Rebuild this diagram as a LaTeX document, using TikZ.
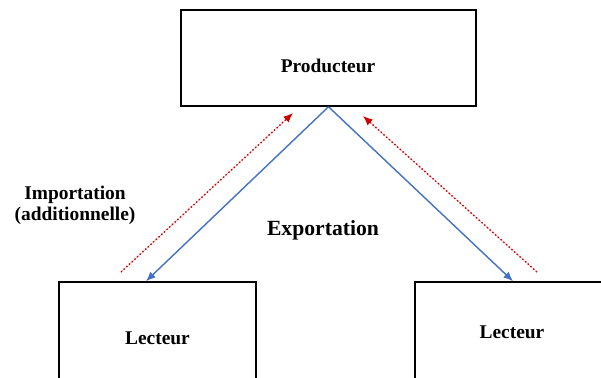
\documentclass[tikz,border=0pt]{standalone}
\usepackage{fontspec}
\setmainfont{Liberation Serif}
\usetikzlibrary{calc,arrows.meta}

\definecolor{bluexp}{RGB}{68,114,196}
\definecolor{redimp}{RGB}{204,0,0}

\begin{document}
\begin{tikzpicture}[
                x=0.025cm, y=-0.025cm,
                font=\bfseries\fontsize{13.8}{15}\selectfont,
                >={Latex[length=2.4mm,width=2mm]},
                % boites (producteur / lecteurs)
                boite/.style={
                    draw,
                    line width=1.1pt,
                    inner sep=0pt
                },
                % fleche d'exportation
                expo/.style={->, draw=bluexp, fill=bluexp, line width=1pt},
                % fleche d'importation (pointilles)
                impo/.style={->, draw=redimp, fill=redimp, line width=1pt,
                    dash pattern=on 1pt off 1.6pt}
            ]

                \useasboundingbox (0,0) rectangle (601,377);
                \clip (0,0) rectangle (601,377);

                % ========================================================
                % 1. Producteur (en haut)
                % ========================================================
                \node[boite, minimum width=295*0.025cm, minimum height=96*0.025cm]
                    (prod) at (328.5, 58) {};
                \node (prodtxt) at (328, 66) {Producteur};

                % ========================================================
                % 2. Lecteurs (en bas, coupes par le bord)
                % ========================================================
                \node[boite, minimum width=197*0.025cm, minimum height=112*0.025cm]
                    (lect1) at (157.5, 338) {Lecteur};
                \node[boite, minimum width=194*0.025cm, minimum height=100*0.025cm]
                    (lect2) at (512, 332) {Lecteur};

                % ========================================================
                % 3. Exportation (fleches bleues)
                % ========================================================
                \coordinate (exp1) at (lect1.north west -| 146, 0);
                \coordinate (exp2) at (lect2.north west -| 513, 0);
                \draw[expo] (prod.south) -- (exp1);
                \draw[expo] (prod.south) -- (exp2);

                \node (exptxt) at (323, 230) {\fontsize{15.4}{17}\selectfont Exportation};

                % ========================================================
                % 4. Importation (fleches rouges en pointilles)
                % ========================================================
                \coordinate (imp1a) at (121, 272);
                \coordinate (imp1b) at (293, 113);
                \coordinate (imp2a) at (537, 272);
                \coordinate (imp2b) at (363, 116);
                \draw[impo] (imp1a) -- (imp1b);
                \draw[impo] (imp2a) -- (imp2b);

                \node[align=center] (imptxt) at (75, 205.5) {Importation\\(additionnelle)};

            \end{tikzpicture}
\end{document}
